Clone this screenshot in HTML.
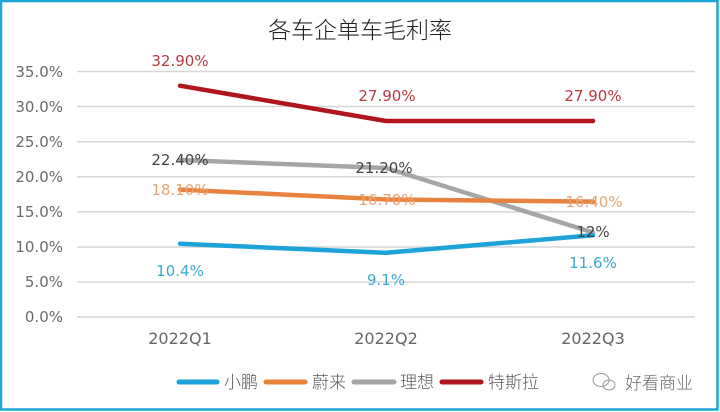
<!DOCTYPE html>
<html><head><meta charset="utf-8"><style>
html,body{margin:0;padding:0;background:#fff;}
svg{display:block;}
</style></head><body>
<svg width="720" height="412" viewBox="0 0 720 412" xmlns="http://www.w3.org/2000/svg">
<rect x="0" y="0" width="720" height="412" fill="#fff"/>
<!-- border -->
<rect x="1" y="1" width="716.5" height="408.5" fill="none" stroke="#1DA6D6" stroke-width="2.5"/>
<!-- title -->
<text x="360" y="38" text-anchor="middle" font-family="'Noto Sans CJK SC','WenQuanYi Zen Hei',sans-serif" font-size="23" font-weight="300" fill="#222">各车企单车毛利率</text>
<!-- gridlines -->
<g stroke="#D6D6D6" stroke-width="1.5">
<line x1="77" y1="71.5" x2="695" y2="71.5"/>
<line x1="77" y1="106.5" x2="695" y2="106.5"/>
<line x1="77" y1="141.7" x2="695" y2="141.7"/>
<line x1="77" y1="176.8" x2="695" y2="176.8"/>
<line x1="77" y1="211.9" x2="695" y2="211.9"/>
<line x1="77" y1="247" x2="695" y2="247"/>
<line x1="77" y1="282" x2="695" y2="282"/>
<line x1="77" y1="317" x2="695" y2="317"/>
</g>
<!-- y tick labels -->
<g font-family="'DejaVu Sans','Liberation Sans',sans-serif" font-size="15" fill="#6A6A6A" text-anchor="end">
<text x="63" y="77">35.0%</text>
<text x="63" y="112">30.0%</text>
<text x="63" y="147">25.0%</text>
<text x="63" y="182">20.0%</text>
<text x="63" y="217">15.0%</text>
<text x="63" y="252">10.0%</text>
<text x="63" y="287">5.0%</text>
<text x="63" y="322">0.0%</text>
</g>
<!-- x labels -->
<g font-family="'DejaVu Sans','Liberation Sans',sans-serif" font-size="16" fill="#666" text-anchor="middle">
<text x="180" y="344">2022Q1</text>
<text x="386" y="344">2022Q2</text>
<text x="593" y="344">2022Q3</text>
</g>
<!-- series -->
<g fill="none" stroke-width="4.5" stroke-linecap="round" stroke-linejoin="round">
<polyline points="180,85.7 386,121 593,121" stroke="#B0141C"/>
<polyline points="180,160 386,168 593,232.5" stroke="#A6A6A6"/>
<polyline points="180,189.6 386,199.5 593,201.6" stroke="#E8833F"/>
<polyline points="180,243.7 386,252.8 593,235.3" stroke="#1EA3D8"/>
</g>
<!-- data labels -->
<g font-family="'DejaVu Sans','Liberation Sans',sans-serif" font-size="15" text-anchor="middle">
<g fill="#B83A40">
<text x="180" y="66">32.90%</text>
<text x="387" y="101">27.90%</text>
<text x="593" y="101">27.90%</text>
</g>
<g fill="#444">
<text x="180" y="165">22.40%</text>
<text x="384" y="173">21.20%</text>
<text x="593" y="237">12%</text>
</g>
<g fill="#EAA473">
<text x="180" y="195">18.10%</text>
<text x="387" y="205">16.70%</text>
<text x="594" y="207">16.40%</text>
</g>
<g fill="#3AAAD0">
<text x="180" y="276">10.4%</text>
<text x="386" y="285">9.1%</text>
<text x="593" y="268">11.6%</text>
</g>
</g>
<!-- legend -->
<g stroke-width="5" stroke-linecap="round">
<line x1="179" y1="382" x2="217" y2="382" stroke="#1EA3D8"/>
<line x1="266" y1="382" x2="305" y2="382" stroke="#E8833F"/>
<line x1="354" y1="382" x2="394" y2="382" stroke="#A6A6A6"/>
<line x1="442" y1="382" x2="481" y2="382" stroke="#B0141C"/>
</g>
<g font-family="'Noto Sans CJK SC','WenQuanYi Zen Hei',sans-serif" font-size="17" font-weight="300" fill="#595959">
<text x="224" y="388">小鹏</text>
<text x="312" y="388">蔚来</text>
<text x="400" y="388">理想</text>
<text x="488" y="388">特斯拉</text>
</g>
<!-- watermark -->
<g fill="none" stroke="#9A9A9A" stroke-width="1">
<ellipse cx="601" cy="380" rx="8" ry="6.5"/>
<ellipse cx="609" cy="385" rx="6" ry="5"/>
</g>
<text x="625" y="389" font-family="'Noto Sans CJK SC','WenQuanYi Zen Hei',sans-serif" font-size="17" font-weight="300" fill="#6A6A6A">好看商业</text>
</svg>
</body></html>
